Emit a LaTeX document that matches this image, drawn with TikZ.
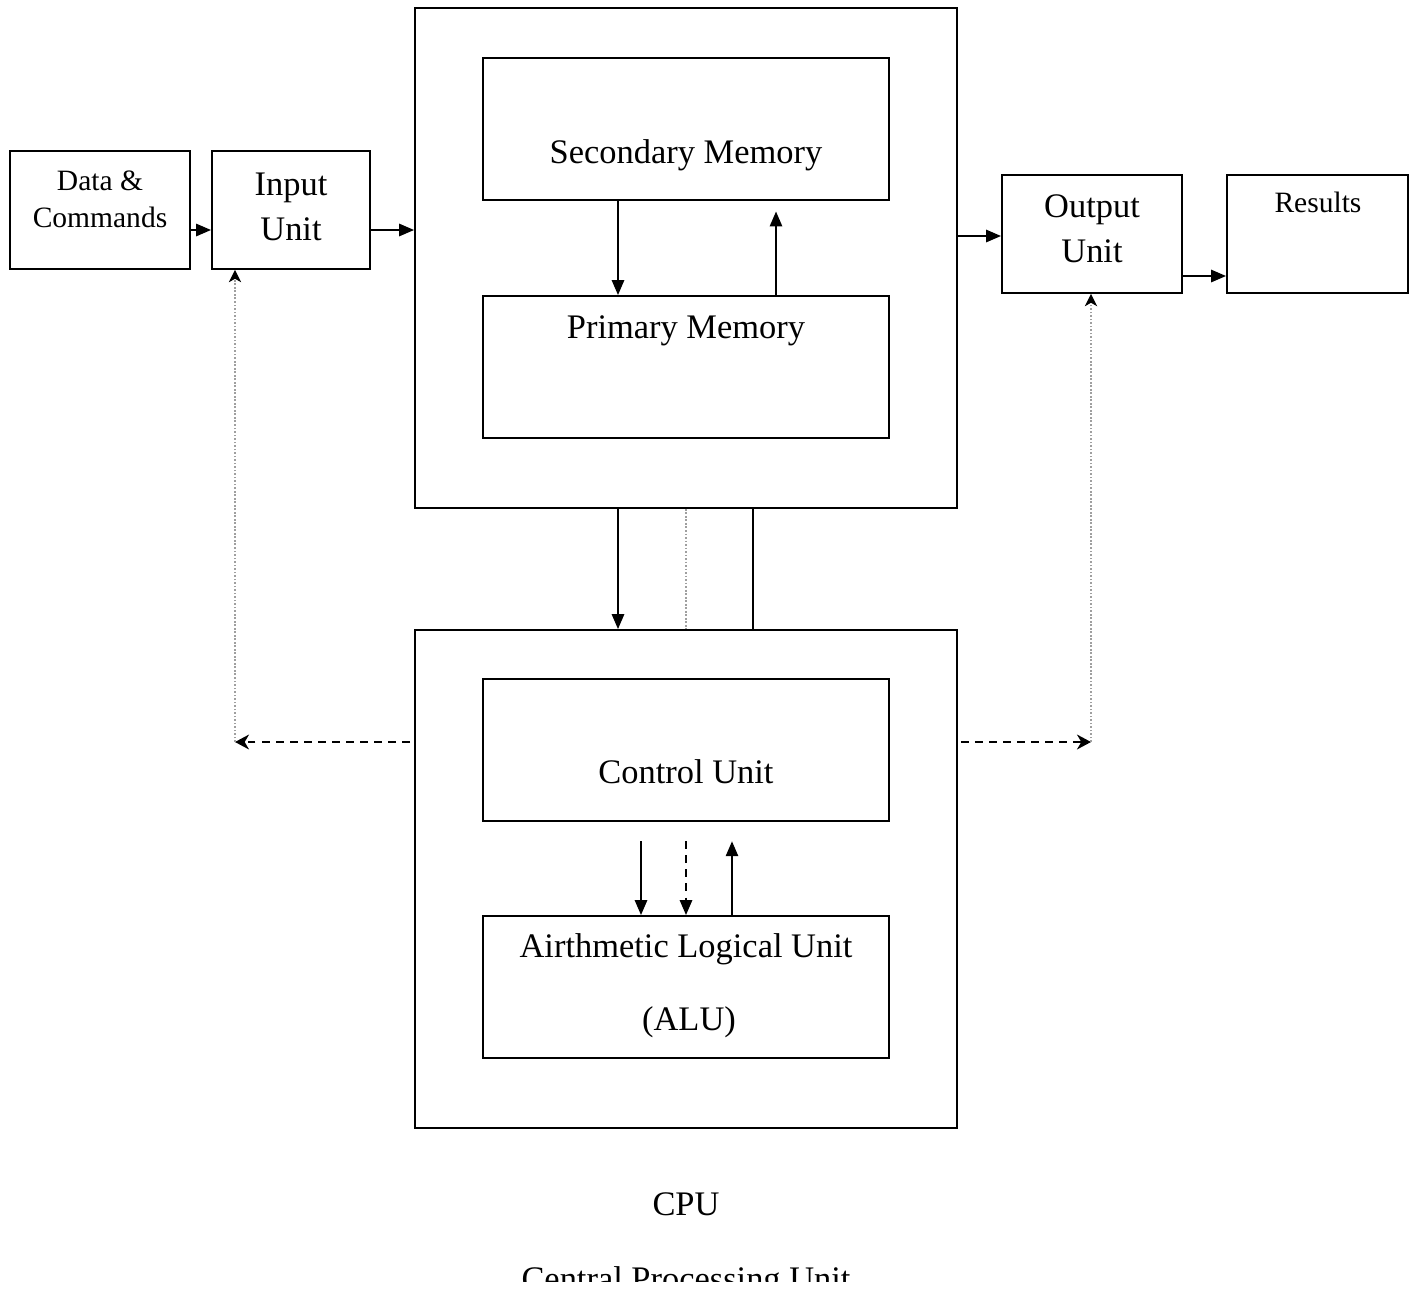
\documentclass[tikz,border=0pt]{standalone}
\usepackage{fontspec}
\setmainfont{Liberation Serif}
\usetikzlibrary{arrows.meta,calc}

\newcommand{\bigtxt}{\fontsize{19.6}{23}\selectfont}
\newcommand{\smalltxt}{\fontsize{16.8}{20}\selectfont}

\tikzset{
  box/.style={draw, line width=1.1pt, inner sep=0pt, minimum width=#1},
  boxh/.style={minimum height=#1},
  lbl/.style={anchor=base, inner sep=0pt, font=\bigtxt},
  slbl/.style={anchor=base, inner sep=0pt, font=\smalltxt},
  arr/.style={-{Triangle[length=8.5pt,width=7pt]}, line width=1.1pt},
  line/.style={line width=1.1pt},
  darr/.style={-{Stealth[length=8pt,width=8.5pt,inset=2.5pt]}, line width=1pt,
               dash pattern=on 4.5pt off 3.5pt},
  dotarr/.style={-{Stealth[length=7pt,width=7pt,inset=2pt,black,line width=0.8pt]}, draw=gray!75,
                 line width=0.7pt, dash pattern=on 1pt off 1pt},
  dotline/.style={draw=gray!75, line width=0.7pt, dash pattern=on 1pt off 1pt},
}

\begin{document}
\begin{tikzpicture}[x=0.02cm, y=-0.02cm]
\useasboundingbox (0,0) rectangle (1417,1289);

% ---- boxes (centre, width, height in px) ----
\node[box=3.6cm,  boxh=2.36cm] (dc)   at (100,210)  {};
\node[box=3.16cm, boxh=2.36cm] (inp)  at (291,210)  {};
\node[box=10.84cm,boxh=10cm]   (mem)  at (686,258)  {};
\node[box=8.12cm, boxh=2.84cm] (sec)  at (686,129)  {};
\node[box=8.12cm, boxh=2.84cm] (prim) at (686,367)  {};
\node[box=10.84cm,boxh=9.96cm] (cpu)  at (686,879)  {};
\node[box=8.12cm, boxh=2.84cm] (cu)   at (686,750)  {};
\node[box=8.12cm, boxh=2.84cm] (alu)  at (686,987)  {};
\node[box=3.6cm,  boxh=2.36cm] (out)  at (1092,234) {};
\node[box=3.62cm, boxh=2.36cm] (res)  at (1317.5,234) {};

% ---- labels ----
\node[slbl] (t1) at (100,190) {Data \&};
\node[slbl] (t2) at (100,227) {Commands};
\node[lbl]  (t3) at (291,195) {Input};
\node[lbl]  (t4) at (291,240) {Unit};
\node[lbl]  (t5) at (686,163) {Secondary Memory};
\node[lbl]  (t6) at (686,338) {Primary Memory};
\node[lbl]  (t7) at (686,783) {Control Unit};
\node[lbl]  (t8) at (686,957) {Airthmetic Logical Unit};
\node[lbl]  (t9) at (689,1030) {(ALU)};
\node[lbl]  (t10) at (1092,217) {Output};
\node[lbl]  (t11) at (1092,262) {Unit};
\node[slbl] (t12) at (1318,212) {Results};
\node[lbl]  (t13) at (686,1215) {CPU};
\begin{scope}
  \clip (0,0) rectangle (1417,1281);
  \node[lbl] (t14) at (686,1290) {Central Processing Unit};
\end{scope}

% ---- data flow ----
\draw[arr] (dc.east |- 0,230) -- (inp.west |- 0,230);
\draw[arr] (inp.east |- 0,230) -- (mem.west |- 0,230);
\draw[arr] (mem.east |- 0,236) -- (out.west |- 0,236);
\draw[arr] (out.east |- 0,276) -- (res.west |- 0,276);

% memory exchange
\draw[arr] (sec.south -| 618,0) -- (prim.north -| 618,0);
\draw[arr, shorten >=6pt] (prim.north -| 776,0) -- (sec.south -| 776,0);

% memory <-> processor
\draw[arr] (mem.south -| 618,0) -- (cpu.north -| 618,0);
\draw[dotline] (mem.south -| 686,0) -- (cpu.north -| 686,0);
\draw[line] (mem.south -| 753,0) -- (cpu.north -| 753,0);

% control unit <-> ALU
\draw[arr, shorten <=11pt] (cu.south -| 641,0) -- (alu.north -| 641,0);
\draw[arr, shorten <=11pt, dash pattern=on 4.5pt off 3.5pt] (cu.south -| 686,0) -- (alu.north -| 686,0);
\draw[arr, shorten >=11pt] (alu.north -| 732,0) -- (cu.south -| 732,0);

% control signals to input / output units
\coordinate (lc) at (235,742);
\coordinate (rc) at (1091,742);
\draw[darr] ($(cpu.west |- lc)+(-4,0)$) -- (lc);
\draw[darr] ($(cpu.east |- rc)+(3,0)$) -- (rc);
\draw[dotarr] (lc) -- (inp.south -| lc);
\draw[dotarr] (rc) -- (out.south -| rc);
\end{tikzpicture}
\end{document}
